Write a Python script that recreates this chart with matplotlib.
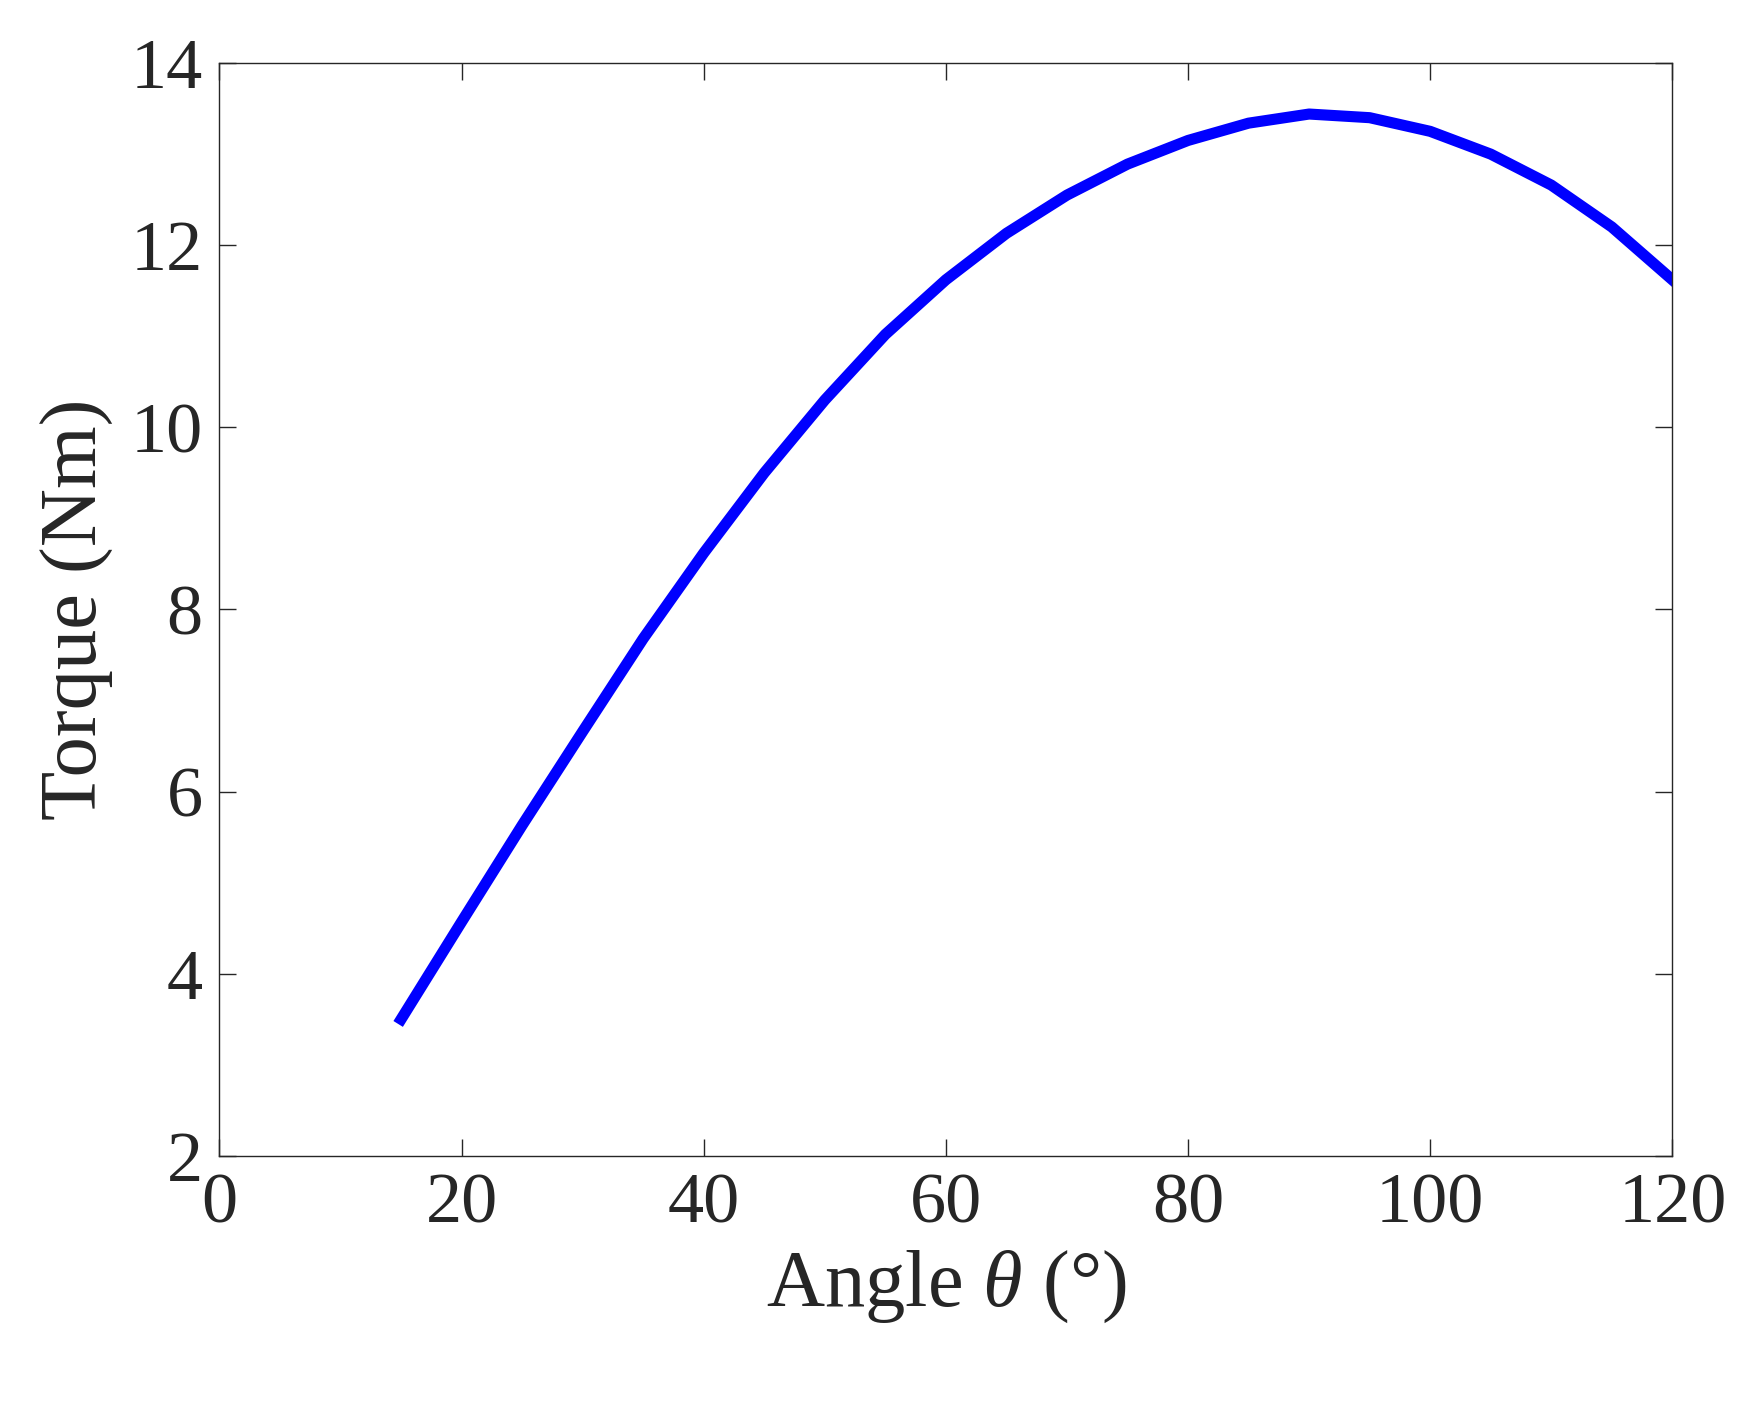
import matplotlib
matplotlib.use("Agg")
import matplotlib.pyplot as plt

plt.rcParams['font.family'] = ['Liberation Serif']
plt.rcParams['mathtext.fontset'] = 'custom'
plt.rcParams['mathtext.rm'] = 'Liberation Serif'
plt.rcParams['mathtext.it'] = 'Liberation Serif:italic'

# values
angle = [15, 20, 25, 30, 35, 40, 45, 50, 55, 60, 65, 70, 75, 80, 85, 90, 95, 100, 105, 110, 115, 120]
torque = [3.5, 4.57, 5.63, 6.66, 7.68, 8.62, 9.5, 10.3, 11.02, 11.62, 12.13, 12.55, 12.89, 13.15, 13.34, 13.44, 13.4, 13.25, 13.0, 12.66, 12.2, 11.62]

fig = plt.figure(figsize=(17.42, 14.01), dpi=100)
ax = fig.add_axes([0.126, 0.175, 0.834, 0.78])
ax.plot(angle, torque, color='#0000ff', linewidth=8, solid_joinstyle='round')
ax.set_xlim(0, 120)
ax.set_ylim(2, 14)
ax.set_xticks([0, 20, 40, 60, 80, 100, 120])
ax.set_yticks([2, 4, 6, 8, 10, 12, 14])
ax.tick_params(direction='in', length=12, width=1, labelsize=52, colors='#262626', top=True, right=True, pad=12)
for s in ax.spines.values():
    s.set_linewidth(1)
    s.set_color('#262626')
ax.set_xlabel(r'Angle $\it{\theta}$ ($\degree$)', fontsize=58, color='#262626', labelpad=8)
ax.set_ylabel('Torque (Nm)', fontsize=58, color='#262626', labelpad=12)
fig.savefig('out.png', dpi=100, facecolor='white')
